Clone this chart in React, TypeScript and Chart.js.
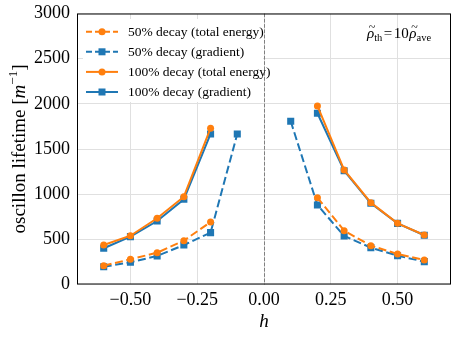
import React, { useEffect, useRef } from "react";
import { Chart, registerables } from "chart.js";
Chart.register(...registerables);

const ORANGE = "#ff7f0e";
const BLUE = "#1f77b4";
const SERIF = '"Liberation Serif", "DejaVu Serif", serif';

// h values and oscillon lifetimes
const h50Total = [-0.6, -0.5, -0.4, -0.3, -0.2, 0.2, 0.3, 0.4, 0.5, 0.6];
const life50Total = [208, 279, 352, 485, 692, 961, 596, 430, 338, 271];
const h50Grad = [-0.6, -0.5, -0.4, -0.3, -0.2, -0.1, 0.1, 0.2, 0.3, 0.4, 0.5, 0.6];
const life50Grad = [197, 246, 316, 437, 574, 1667, 1807, 880, 537, 408, 319, 253];
const h100 = [-0.6, -0.5, -0.4, -0.3, -0.2, 0.2, 0.3, 0.4, 0.5, 0.6];
const life100Total = [437, 540, 733, 972, 1730, 1977, 1268, 906, 677, 548];
const life100Grad = [401, 530, 703, 943, 1667, 1896, 1260, 899, 677, 545];

const xTicks = [-0.5, -0.25, 0, 0.25, 0.5];
const yMin = 0;
const yMax = 3000;
const yStep = 500;

const legendLabels = [
  "50% decay (total energy)",
  "50% decay (gradient)",
  "100% decay (total energy)",
  "100% decay (gradient)",
];
const yLabelText = "oscillon lifetime [";
const xLabelText = "h";

function toPoints(xs: number[], ys: number[]) {
  const pts: { x: number; y: number | null }[] = [];
  for (let i = 0; i < xs.length; i++) {
    if (i > 0 && xs[i - 1] < 0 && xs[i] > 0) pts.push({ x: 0, y: null });
    pts.push({ x: xs[i], y: ys[i] });
  }
  return pts;
}

const DASH = [8, 3.6];

const seriesStyle = [
  { color: ORANGE, dash: DASH, shape: "circle", radius: 3.5 },
  { color: BLUE, dash: DASH, shape: "rect", radius: 5 },
  { color: ORANGE, dash: [] as number[], shape: "circle", radius: 3.5 },
  { color: BLUE, dash: [] as number[], shape: "rect", radius: 5 },
];

function drawMarker(ctx: CanvasRenderingContext2D, shape: string, x: number, y: number, color: string) {
  ctx.save();
  ctx.fillStyle = color;
  ctx.setLineDash([]);
  if (shape === "circle") {
    ctx.beginPath();
    ctx.arc(x, y, 3.5, 0, Math.PI * 2);
    ctx.fill();
  } else {
    ctx.fillRect(x - 3.5, y - 3.5, 7, 7);
  }
  ctx.restore();
}

const decor = {
  id: "decor",
  beforeDatasetsDraw(chart: any) {
    const { ctx, chartArea: a, scales } = chart;
    ctx.save();
    ctx.fillStyle = "#ffffff";
    ctx.fillRect(83, 19, 180, 83);
    const x0 = Math.round(scales.x.getPixelForValue(0)) + 0.5;
    ctx.strokeStyle = "#808080";
    ctx.lineWidth = 1;
    ctx.setLineDash([3.7, 1.6]);
    ctx.beginPath();
    ctx.moveTo(x0, a.top);
    ctx.lineTo(x0, a.bottom);
    ctx.stroke();
    ctx.restore();
  },
  afterDraw(chart: any) {
    const { ctx, chartArea: a } = chart;
    ctx.save();
    ctx.strokeStyle = "#000";
    ctx.lineWidth = 1;
    ctx.setLineDash([]);
    ctx.strokeRect(a.left + 0.5, a.top + 0.5, a.right - a.left - 1, a.bottom - a.top - 1);

    ctx.textBaseline = "middle";
    ctx.textAlign = "left";
    ctx.font = `13.5px ${SERIF}`;
    legendLabels.forEach((lab, i) => {
      const st = seriesStyle[i];
      const y = 31.7 + i * 20.1;
      ctx.strokeStyle = st.color;
      ctx.lineWidth = 2;
      ctx.setLineDash(st.dash.length ? [6, 3] : []);
      ctx.beginPath();
      ctx.moveTo(86, y);
      ctx.lineTo(118, y);
      ctx.stroke();
      drawMarker(ctx, st.shape, 102, y, st.color);
      ctx.fillStyle = "#000";
      ctx.fillText(lab, 128, y + 0.5);
    });

    ctx.textBaseline = "alphabetic";
    let x = 367;
    const base = 38;
    const big = `italic 15px ${SERIF}`;
    const up = `15px ${SERIF}`;
    const sub = `10.5px ${SERIF}`;
    const piece = (t: string, f: string, dy = 0, pad = 0) => {
      ctx.font = f;
      ctx.fillStyle = "#000";
      x += pad;
      ctx.fillText(t, x, base + dy);
      x += ctx.measureText(t).width + pad;
    };
    const rho = (pad = 0) => {
      ctx.font = big;
      x += pad;
      const w = ctx.measureText("\u03C1").width;
      ctx.fillText("\u03C1", x, base);
      ctx.font = `12px ${SERIF}`;
      ctx.textAlign = "center";
      ctx.fillText("~", x + w / 2 + 1.5, base - 7);
      ctx.textAlign = "left";
      x += w;
    };
    rho();
    piece("th", sub, 3);
    piece("=", up, 0, 1.5);
    piece("10", up);
    rho(0.5);
    piece("ave", sub, 3);

    const cy = (a.top + a.bottom) / 2;
    const fN = `19px ${SERIF}`;
    const fI = `italic 19px ${SERIF}`;
    const fS = `13px ${SERIF}`;
    const parts: [string, string, number][] = [
      [yLabelText, fN, 0],
      ["m", fI, 0],
      ["\u22121", fS, -8],
      ["]", fN, 0],
    ];
    let total = 0;
    parts.forEach(([t, f]) => {
      ctx.font = f;
      total += ctx.measureText(t).width;
    });
    ctx.translate(25, cy);
    ctx.rotate(-Math.PI / 2);
    let px = -total / 2;
    parts.forEach(([t, f, dy]) => {
      ctx.font = f;
      ctx.fillText(t, px, dy);
      px += ctx.measureText(t).width;
    });
    ctx.restore();

    ctx.save();
    ctx.font = `italic 19px ${SERIF}`;
    ctx.textAlign = "center";
    ctx.textBaseline = "alphabetic";
    ctx.fillStyle = "#000";
    ctx.fillText(xLabelText, (a.left + a.right) / 2, 327);
    ctx.restore();
  },
};

export default function App() {
  const ref = useRef<HTMLCanvasElement>(null);
  useEffect(() => {
    document.body.style.margin = "0";
    const datasets = [
      { xs: h50Total, ys: life50Total },
      { xs: h50Grad, ys: life50Grad },
      { xs: h100, ys: life100Total },
      { xs: h100, ys: life100Grad },
    ].map((d, i) => {
      const st = seriesStyle[i];
      return {
        label: legendLabels[i],
        data: toPoints(d.xs, d.ys),
        borderColor: st.color,
        backgroundColor: st.color,
        borderWidth: 2,
        borderDash: st.dash,
        pointStyle: st.shape,
        pointRadius: st.radius,
        pointBorderWidth: 0,
        pointBackgroundColor: st.color,
        spanGaps: false,
        tension: 0,
      };
    });
    const chart = new Chart(ref.current!, {
      type: "line",
      data: { datasets } as any,
      options: {
        animation: false,
        responsive: true,
        maintainAspectRatio: false,
        layout: { padding: { top: 13.5, right: 7, left: 0, bottom: 0 } },
        plugins: { legend: { display: false }, tooltip: { enabled: false } },
        scales: {
          x: {
            type: "linear",
            min: -0.7,
            max: 0.7,
            afterBuildTicks: (s: any) => {
              s.ticks = xTicks.map((v) => ({ value: v }));
            },
            afterFit: (s: any) => {
              s.height = 53.5;
              s.paddingLeft = 0;
              s.paddingRight = 0;
            },
            ticks: {
              color: "#000",
              font: { family: SERIF, size: 18 },
              padding: 5,
              maxRotation: 0,
              callback: (v: any) => (v < 0 ? "\u2212" : "") + Math.abs(Number(v)).toFixed(2),
            },
            grid: { color: "#e0e0e0", lineWidth: 1, drawTicks: false },
            border: { display: false },
          },
          y: {
            type: "linear",
            min: yMin,
            max: yMax,
            afterFit: (s: any) => {
              s.width = 77;
              s.paddingTop = 0;
              s.paddingBottom = 0;
            },
            ticks: {
              stepSize: yStep,
              color: "#000",
              font: { family: SERIF, size: 18 },
              padding: 7,
              callback: (v: any) => String(v),
            },
            grid: { color: "#e0e0e0", lineWidth: 1, drawTicks: false },
            border: { display: false },
          },
        },
      },
      plugins: [decor],
    } as any);
    return () => chart.destroy();
  }, []);
  return (
    <div style={{ position: "fixed", left: 0, top: 0, width: 458, height: 338 }}>
      <canvas ref={ref} />
    </div>
  );
}
